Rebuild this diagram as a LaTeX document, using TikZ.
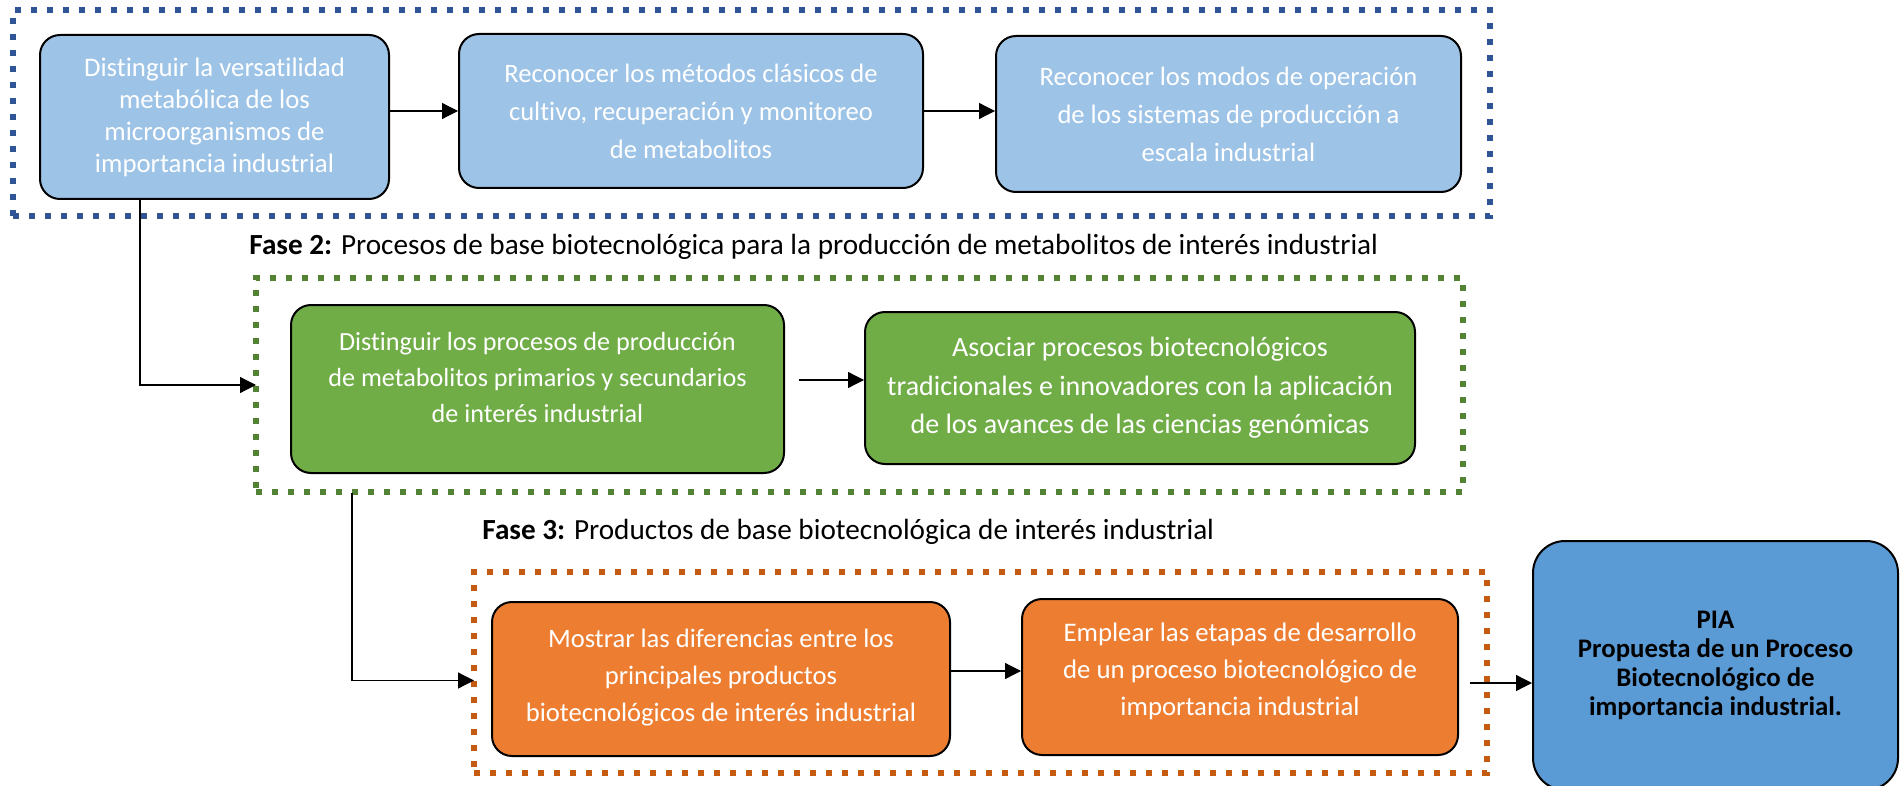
\documentclass[tikz,border=0pt]{standalone}
\usepackage{fontspec}
\setmainfont{Carlito}[Ligatures=NoCommon]
\usetikzlibrary{arrows.meta}
\definecolor{azulclaro}{HTML}{9DC3E6}
\definecolor{verde}{HTML}{70AD47}
\definecolor{naranja}{HTML}{ED7D31}
\definecolor{azulpia}{HTML}{5B9BD5}
\definecolor{marcoazul}{HTML}{2F5597}
\definecolor{marcoverde}{HTML}{548235}
\definecolor{marconaranja}{HTML}{C55A11}

\begin{document}
\begin{tikzpicture}[x=0.5pt,y=-0.5pt,
  paso/.style={draw=black,line width=1pt,rounded corners=10pt,text=white,align=center,inner sep=0pt,font=\fontsize{13.3}{18.5}\selectfont},
  marco/.style={draw,line width=3pt,dash pattern=on 3pt off 5pt,inner sep=0pt,outer sep=0pt},
  fase/.style={anchor=west,inner sep=0pt,font=\fontsize{14.6}{17}\selectfont},
  flecha/.style={-{Triangle[length=8pt,width=8pt]},line width=0.6pt}]
\useasboundingbox (0,0) rectangle (1904,786);
\clip (0,0) rectangle (1904,786);

% marcos de las fases
\node[marco,draw=marcoazul,minimum width=738.5pt,minimum height=103pt] (f1) at (751.5,113) {};
\node[marco,draw=marcoverde,minimum width=603.5pt,minimum height=107pt] (f2) at (859.5,385) {};
\node[marco,draw=marconaranja,minimum width=506.5pt,minimum height=100.5pt] (f3) at (980.5,672.5) {};

% fase 1
\node[paso,fill=azulclaro,minimum width=174.5pt,minimum height=82pt,font=\fontsize{13.4}{16}\selectfont] (b1) at (214.5,117) {Distinguir la versatilidad\\metabólica de los\\microorganismos de\\importancia industrial};
\node[paso,fill=azulclaro,minimum width=232pt,minimum height=77pt,font=\fontsize{13.3}{19}\selectfont] (b2) at (691,111) {Reconocer los métodos clásicos de\\cultivo, recuperación y monitoreo\\de metabolitos};
\node[paso,fill=azulclaro,minimum width=232.5pt,minimum height=78pt,font=\fontsize{13.3}{19}\selectfont] (b3) at (1228.5,114) {Reconocer los modos de operación\\de los sistemas de producción a\\escala industrial};
\draw[flecha] (b1.east |- b2.west) -- (b2.west);
\draw[flecha] (b2.east) -- (b3.west |- b2.east);

% fase 2
\node[fase] (t2) at (249,247) {\textbf{Fase 2:} Procesos de base biotecnológica para la producción de metabolitos de interés industrial};
\node[paso,fill=verde,minimum width=246.5pt,minimum height=84pt,font=\fontsize{13.1}{18}\selectfont,text depth=12pt] (g1) at (537.5,389) {Distinguir los procesos de producción\\de metabolitos primarios y secundarios\\de interés industrial};
\node[paso,fill=verde,minimum width=275pt,minimum height=76pt,font=\fontsize{14}{19.25}\selectfont] (g2) at (1140,388) {Asociar procesos biotecnológicos\\tradicionales e innovadores con la aplicación\\de los avances de las ciencias genómicas};
\coordinate (s1) at (140,198);
\draw[flecha] (s1) |- (f2.west);
\draw[flecha] ([xshift=7pt,yshift=4.5pt]g1.east) -- ([yshift=4pt]g2.west);

% fase 3
\node[fase] (t3) at (482,532) {\textbf{Fase 3:} Productos de base biotecnológica de interés industrial};
\node[paso,fill=naranja,minimum width=229pt,minimum height=77pt,text depth=4pt] (o1) at (721,679) {Mostrar las diferencias entre los\\principales productos\\biotecnológicos de interés industrial};
\node[paso,fill=naranja,minimum width=218pt,minimum height=78pt,font=\fontsize{13.4}{18.5}\selectfont,text depth=8pt] (o2) at (1240,677) {Emplear las etapas de desarrollo\\de un proceso biotecnológico de\\importancia industrial};
\coordinate (s2) at (352,493);
\draw[flecha] (s2) |- ([yshift=-4pt]f3.west);
\draw[flecha] ([yshift=4pt]o1.east) -- ([yshift=3pt]o2.west);

% resultado
\node[paso,fill=azulpia,text=black,rounded corners=16pt,minimum width=182.5pt,minimum height=124.5pt,font=\fontsize{13.4}{14.4}\selectfont\bfseries] (pia) at (1715.5,665.5) {PIA\\Propuesta de un Proceso\\Biotecnológico de\\importancia industrial.};
\coordinate (s3) at (1470,683);
\draw[flecha] (s3) -- (pia.west |- s3);
\end{tikzpicture}
\end{document}
